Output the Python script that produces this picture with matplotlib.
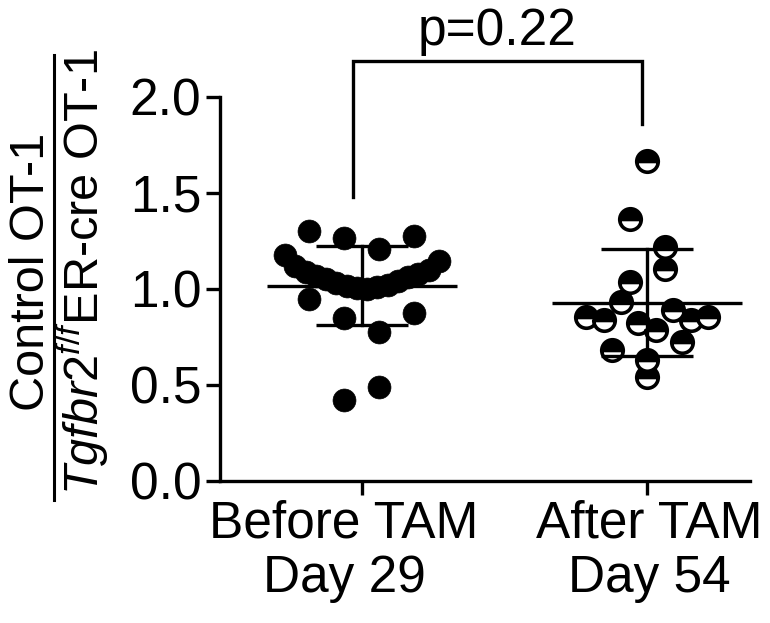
import numpy as np
import matplotlib
matplotlib.use("Agg")
import matplotlib.pyplot as plt
from matplotlib.transforms import ScaledTranslation

plt.rcParams['font.family'] = ['Liberation Sans', 'DejaVu Sans']
plt.rcParams['mathtext.fontset'] = 'custom'
plt.rcParams['mathtext.rm'] = 'Liberation Sans'
plt.rcParams['mathtext.it'] = 'Liberation Sans:italic'
plt.rcParams['mathtext.bf'] = 'Liberation Sans:bold'

# ---------------- data (in entry order) ----------------
categories = ["Before TAM\nDay 29", "After TAM\nDay 54"]
before_tam = [1.300, 1.264, 1.206, 1.274,
              1.175, 1.12, 1.09, 1.07, 1.05, 1.03, 1.015, 1.005,
              1.00, 1.01, 1.02, 1.04, 1.06, 1.08, 1.10, 1.144,
              0.950, 0.851, 0.778, 0.877,
              0.423, 0.491]
after_tam = [1.666, 1.363, 1.217, 1.034, 1.102,
             0.856, 0.841, 0.930, 0.825, 0.789, 0.893, 0.841, 0.856,
             0.684, 0.632, 0.726, 0.543]
y_ticks = [0.0, 0.5, 1.0, 1.5, 2.0]
y_tick_labels = ["0.0", "0.5", "1.0", "1.5", "2.0"]
p_text = "p=0.22"

# ---------------- figure ----------------
W, H, DPI = 770, 623, 100
fig = plt.figure(figsize=(W / DPI, H / DPI), dpi=DPI)
ax = fig.add_axes([220 / W, 1 - 481 / H, (750 - 220) / W, (481 - 97) / H])
ax.set_xlim(0.502, 2.361)
ax.set_ylim(0, 2.0)

FS = 37
LW = 2.4
for s in ['top', 'right']:
    ax.spines[s].set_visible(False)
for s in ['left', 'bottom']:
    ax.spines[s].set_linewidth(LW)
ax.tick_params(axis='both', width=LW, length=10, labelsize=FS, direction='out')
ax.tick_params(axis='y', pad=3.5)
ax.tick_params(axis='x', pad=3)
ax.set_yticks(y_ticks)
ax.set_yticklabels(y_tick_labels)
ax.set_xticks([1, 2])
ax.set_xticklabels(categories, linespacing=1.15)
shifts = [-18, 2]
for lab, dx in zip(ax.get_xticklabels(), shifts):
    lab.set_transform(lab.get_transform() + ScaledTranslation(dx / DPI, 0, fig.dpi_scale_trans))

# ---------------- scatter layout (GraphPad-like rows, computed) ----------------
ROW_H = 0.21        # row height in data units
ROW_ORIGIN = 0.975  # row boundary
STEP_PX = 35        # preferred horizontal spacing of points in a row

def row_offsets(values, xcenter, max_half_px):
    vals = np.asarray(values, float)
    rows = np.floor((vals - ROW_ORIGIN) / ROW_H).astype(int)
    px_per_x = ax.transData.transform([[1, 0]])[0, 0] - ax.transData.transform([[0, 0]])[0, 0]
    xs = np.zeros(len(vals))
    for r in np.unique(rows):
        idx = np.where(rows == r)[0]
        n = len(idx)
        if n == 1:
            continue
        step = min(STEP_PX, 2 * max_half_px / (n - 1))
        for k, i in enumerate(idx):
            xs[i] = (k - (n - 1) / 2) * step
    return xcenter + xs / px_per_x

xb = row_offsets(before_tam, 1, 77)
xa = row_offsets(after_tam, 2, 61)

ax.plot(xb, before_tam, 'o', ms=16.5, mfc='black', mec='black', mew=0.5,
        linestyle='none', clip_on=False, zorder=3)
ax.plot(xa, after_tam, 'o', ms=15.5, fillstyle='top', mfc='black',
        markerfacecoloralt='white', mec='black', mew=2.6,
        linestyle='none', clip_on=False, zorder=3)

# mean and SD
for xc, vals in [(1, before_tam), (2, after_tam)]:
    m = np.mean(vals)
    sd = np.std(vals, ddof=1)
    ax.plot([xc - 0.333, xc + 0.333], [m, m], color='black', lw=LW, zorder=4,
            solid_capstyle='butt')
    ax.plot([xc, xc], [m - sd, m + sd], color='black', lw=LW, zorder=4)
    for yy in (m - sd, m + sd):
        ax.plot([xc - 0.16, xc + 0.16], [yy, yy], color='black', lw=LW, zorder=4,
                solid_capstyle='butt')

# significance bracket
bx1, bx2 = 0.968, 1.982
ax.plot([bx1, bx1, bx2, bx2], [1.48, 2.185, 2.185, 1.857], color='black', lw=LW,
        clip_on=False, solid_joinstyle='miter')
ax.text((bx1 + bx2) / 2, 2.27, p_text, ha='center', va='baseline', fontsize=FS)

# y label as a fraction
YFS = 35
fig.text(44 / W, 1 - 272 / H, "Control OT-1", rotation=90, rotation_mode='anchor',
         ha='center', va='baseline', fontsize=YFS)
fig.text(99 / W, 1 - 272 / H, r"$\mathit{Tgfbr2}^{\mathit{f/f}}$ER-cre OT-1",
         rotation=90, rotation_mode='anchor', ha='center', va='baseline', fontsize=YFS)
fig.add_artist(plt.Line2D([54 / W, 54 / W], [1 - 500 / H, 1 - 55 / H], color='black',
                          lw=2.2, transform=fig.transFigure))

fig.savefig("out.png", dpi=DPI)
